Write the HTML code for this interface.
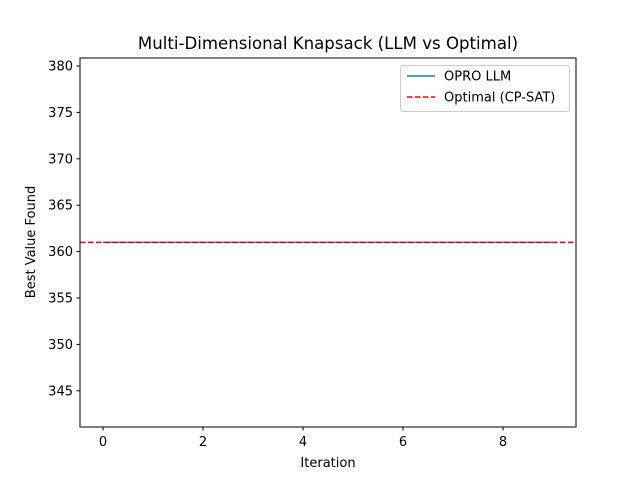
<!DOCTYPE html>
<html><head><meta charset="utf-8"><style>
body{margin:0;background:#fff;}
svg text{font-family:"DejaVu Sans","Liberation Sans",sans-serif;fill:#000;}
</style></head><body>
<svg width="640" height="480" viewBox="0 0 640 480">
<rect width="640" height="480" fill="#fff"/>
<text x="328" y="49" font-size="16.6" text-anchor="middle">Multi-Dimensional Knapsack (LLM vs Optimal)</text>
<g id="xticks"></g>
<g id="yticks"></g>
<g id="series"></g>
<rect x="80" y="58" width="496" height="369" fill="none" stroke="#000" stroke-width="1"/>
<text x="328" y="467" font-size="13" text-anchor="middle">Iteration</text>
<text transform="translate(35,242) rotate(-90)" font-size="13" text-anchor="middle">Best Value Found</text>
<g>
<rect x="400.5" y="65.5" width="169" height="46" rx="3" fill="#fff" stroke="#ccc"/>
<line x1="407" y1="76" x2="435" y2="76" stroke="#1f77b4" stroke-width="1.5"/>
<text x="444" y="80.5" font-size="13">OPRO LLM</text>
<line x1="407" y1="97" x2="435" y2="97" stroke="#ff0000" stroke-width="1.5" stroke-dasharray="5.5,2.5"/>
<text x="444" y="101.5" font-size="13">Optimal (CP-SAT)</text>
</g>
</svg>
<script>
const iterations=[0,1,2,3,4,5,6,7,8,9];
const oproValues=[361,361,361,361,361,361,361,361,361,361];
const optimalValue=361;
const xTickLabels=[0,2,4,6,8];
const yTickLabels=[345,350,355,360,365,370,375,380];
const NS="http://www.w3.org/2000/svg";
const xmin=-0.46,xmax=9.46,ymin=341.1,ymax=380.86;
const X=v=>80+(v-xmin)/(xmax-xmin)*496;
const Y=v=>427-(v-ymin)/(ymax-ymin)*369;
function mk(t,a,p){const e=document.createElementNS(NS,t);for(const k in a)e.setAttribute(k,a[k]);p.appendChild(e);return e;}
const xg=document.getElementById('xticks'),yg=document.getElementById('yticks'),sg=document.getElementById('series');
xTickLabels.forEach(v=>{
 const l=mk('line',{x1:X(v),x2:X(v),y1:427,y2:430.5,stroke:'#000'},xg);
 
 
 const t=mk('text',{x:X(v),y:446,'font-size':13,'text-anchor':'middle'},xg);t.textContent=v;
 
 
});
yTickLabels.forEach(v=>{
 const l=mk('line',{x1:76.5,x2:80,y1:Y(v),y2:Y(v),stroke:'#000'},yg);
 
 
 const t=mk('text',{x:73,y:Y(v)+4.5,'font-size':13,'text-anchor':'end'},yg);t.textContent=v;
 
 
});
const pts=iterations.map((x,i)=>X(x)+','+Y(oproValues[i])).join(' ');
const pl=mk('polyline',{points:pts,fill:'none',stroke:'#1f77b4','stroke-width':1.5},sg);


const hl=mk('line',{x1:80,x2:576,y1:Y(optimalValue),y2:Y(optimalValue),stroke:'#ff0000','stroke-width':1.5,'stroke-dasharray':'5.5,2.5'},sg);


</script>
</body></html>
